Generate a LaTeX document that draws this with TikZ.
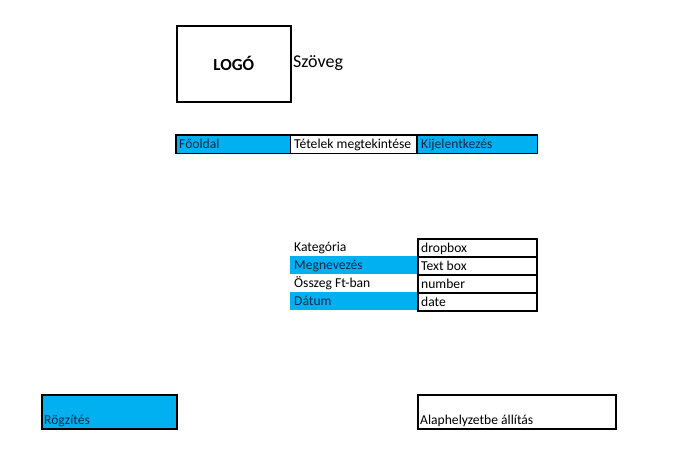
\documentclass[tikz,border=0pt]{standalone}
\usepackage{fontspec}
\setmainfont{Carlito}
\usetikzlibrary{calc}
\definecolor{cellblue}{HTML}{00B0F0}
\definecolor{navytext}{HTML}{14284A}
\tikzset{
  box/.style={draw=black, line width=1.6pt, anchor=north west, inner sep=0pt},
  bluebox/.style={box, fill=cellblue},
  plainblue/.style={fill=cellblue, anchor=north west, inner sep=0pt},
  txt/.style={anchor=base west, inner sep=0pt, font=\fontsize{13.6}{15}\selectfont, text=black},
  bluetxt/.style={txt, text=navytext},
}
\begin{document}
\begin{tikzpicture}[x=1pt,y=-1pt]
\useasboundingbox[fill=white] (0,0) rectangle (689,463);

% logo
\node[box, minimum width=114pt, minimum height=76pt, font=\bfseries\fontsize{17}{19}\selectfont] (logo) at (176,25) {LOGÓ};
\node[anchor=base west, inner sep=0pt, font=\fontsize{18}{20}\selectfont] (szoveg) at (293,67) {Szöveg};

% navigation bar
\node[plainblue, minimum width=114pt, minimum height=18pt] (n1) at (176,135) {};
\node[anchor=north west, inner sep=0pt, minimum width=127pt, minimum height=18pt] (n2) at (290,135) {};
\node[plainblue, minimum width=120pt, minimum height=18pt] (n3) at (417,135) {};
\draw[line width=1.6pt] (n1.north west) rectangle (n3.south east);
\draw[line width=1.6pt] (n1.north east) -- (n1.south east);
\draw[line width=1.6pt] (n3.north west) -- (n3.south west);
\node[bluetxt] (t1) at ($(n1.south west)+(3,-5)$) {Főoldal};
\node[txt] (t2) at ($(n2.south west)+(4,-5)$) {Tételek megtekintése};
\node[bluetxt] (t3) at ($(n3.south west)+(4,-5)$) {Kijelentkezés};

% form
\node[anchor=north west, inner sep=0pt, minimum width=127pt, minimum height=18pt] (l1) at (290,238) {};
\node[plainblue, minimum width=127pt, minimum height=18pt] (l2) at (290,256) {};
\node[anchor=north west, inner sep=0pt, minimum width=127pt, minimum height=18pt] (l3) at (290,274) {};
\node[plainblue, minimum width=127pt, minimum height=18pt] (l4) at (290,292) {};
\node[box, minimum width=119pt, minimum height=18pt] (r1) at (417,238) {};
\node[box, minimum width=119pt, minimum height=18pt] (r2) at (417,256) {};
\node[box, minimum width=119pt, minimum height=18pt] (r3) at (417,274) {};
\node[box, minimum width=119pt, minimum height=18pt] (r4) at (417,292) {};
\node[txt] (lt1) at ($(l1.south west)+(4,-5)$) {Kategória};
\node[bluetxt] (lt2) at ($(l2.south west)+(4,-5)$) {Megnevezés};
\node[txt] (lt3) at ($(l3.south west)+(4,-5)$) {Összeg Ft-ban};
\node[bluetxt] (lt4) at ($(l4.south west)+(4,-5)$) {Dátum};
\node[txt] (rt1) at ($(r1.south west)+(4,-5)$) {dropbox};
\node[txt] (rt2) at ($(r2.south west)+(4,-5)$) {Text box};
\node[txt] (rt3) at ($(r3.south west)+(4,-5)$) {number};
\node[txt] (rt4) at ($(r4.south west)+(4,-5)$) {date};

% buttons
\node[bluebox, minimum width=135pt, minimum height=34pt] (b1) at (41,394) {};
\node[bluetxt] (bt1) at ($(b1.south west)+(3,-5)$) {Rögzítés};
\node[box, minimum width=198pt, minimum height=34pt] (b2) at (417,394) {};
\node[txt] (bt2) at ($(b2.south west)+(3,-5)$) {Alaphelyzetbe állítás};
\end{tikzpicture}
\end{document}
